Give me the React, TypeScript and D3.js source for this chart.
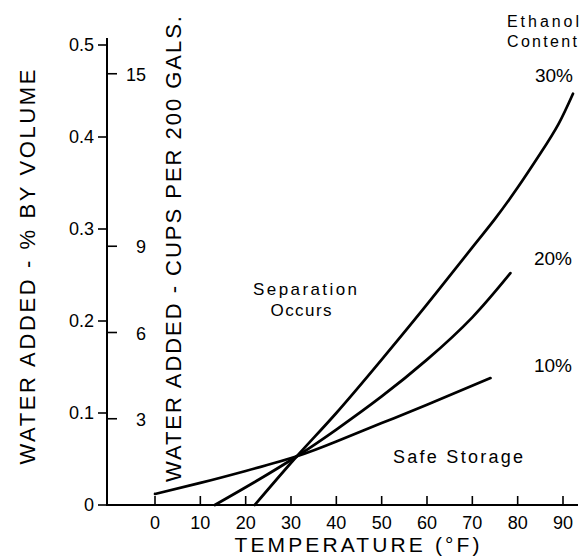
import React from 'react';
import * as d3 from 'd3';

// temperature (°F) vs. water added (% by volume)
const temps10 = [0, 10, 20, 31.3, 40, 50, 60, 74];
const water10 = [0.012, 0.024, 0.037, 0.053, 0.069, 0.089, 0.109, 0.138];
const temps20 = [13.2, 22, 31.3, 40, 50, 60, 70, 78.4];
const water20 = [0, 0.025, 0.053, 0.082, 0.118, 0.158, 0.204, 0.252];
const temps30 = [22, 31.3, 40, 50, 60, 70, 75, 80, 85, 89, 92.2];
const water30 = [0, 0.053, 0.1, 0.158, 0.218, 0.28, 0.311, 0.345, 0.382, 0.414, 0.447];

const seriesLabels = ['10%', '20%', '30%'];
const tempTicks = [0, 10, 20, 30, 40, 50, 60, 70, 80, 90];
const pctTicks = [0, 0.1, 0.2, 0.3, 0.4, 0.5];
const cupTicks = [3, 6, 9, 15];
const cupsPerPct = 32; // 200 gal = 3200 cups

const FONT = '"Liberation Sans", Arial, sans-serif';

export default function App() {
  const width = 579, height = 557;
  const axisX = 107;

  const x = d3.scaleLinear().domain([0, 90]).range([155, 563]);
  const y = d3.scaleLinear().domain([0, 0.5]).range([505, 45]);

  const line = d3.line<[number, number]>()
    .x(d => x(d[0]))
    .y(d => y(d[1]))
    .curve(d3.curveNatural);

  const series = [
    d3.zip(temps10, water10),
    d3.zip(temps20, water20),
    d3.zip(temps30, water30),
  ] as [number, number][][];

  const fmtPct = (v: number) => (v === 0 ? '0' : d3.format('.1f')(v));

  return (
    <div style={{ position: 'absolute', left: 0, top: 0 }}>
      <svg width={width} height={height} style={{ display: 'block', background: '#fff' }}
        fontFamily={FONT} fill="#000">
        {/* axes */}
        <line x1={axisX} x2={578} y1={y(0)} y2={y(0)} stroke="#000" strokeWidth={2} />
        <line x1={axisX} x2={axisX} y1={y(0) + 1} y2={38} stroke="#000" strokeWidth={2} />

        {tempTicks.map(t => (
          <g key={'xt' + t}>
            <line x1={x(t)} x2={x(t)} y1={y(0)} y2={y(0) - 9} stroke="#000" strokeWidth={1.6} />
            <text x={x(t)} y={529} fontSize={18} textAnchor="middle">{t}</text>
          </g>
        ))}

        {pctTicks.map(v => (
          <g key={'yt' + v}>
            <line x1={axisX} x2={axisX - 9} y1={y(v)} y2={y(v)} stroke="#000" strokeWidth={1.6} />
            <text x={94} y={y(v) + 6} fontSize={18} textAnchor="end">{fmtPct(v)}</text>
          </g>
        ))}

        {cupTicks.map(c => (
          <g key={'ct' + c}>
            <line x1={axisX} x2={axisX + 10} y1={y(c / cupsPerPct)} y2={y(c / cupsPerPct)}
              stroke="#000" strokeWidth={1.6} />
            <text x={146} y={y(c / cupsPerPct) + 7} fontSize={18} textAnchor="end">{c}</text>
          </g>
        ))}

        {/* axis titles */}
        <text transform="translate(35,267) rotate(-90)" fontSize={22} textAnchor="middle"
          textLength={395} lengthAdjust="spacing">WATER ADDED - % BY VOLUME</text>
        <text transform="translate(181,249) rotate(-90)" fontSize={22} textAnchor="middle"
          textLength={466} lengthAdjust="spacing">WATER ADDED - CUPS PER 200 GALS.</text>
        <text x={357} y={552} fontSize={21} textAnchor="middle"
          textLength={245} lengthAdjust="spacing">TEMPERATURE  (°F)</text>

        {/* curves */}
        {series.map((s, i) => (
          <path key={seriesLabels[i]} d={line(s) || ''} fill="none" stroke="#000"
            strokeWidth={2.7} strokeLinecap="round" />
        ))}

        {/* annotations */}
        <text x={543} y={27} fontSize={16} textAnchor="middle" textLength={72}
          lengthAdjust="spacing">Ethanol</text>
        <text x={542} y={47} fontSize={16} textAnchor="middle" textLength={70}
          lengthAdjust="spacing">Content</text>
        <text x={554} y={82} fontSize={19} textAnchor="middle">{seriesLabels[2]}</text>
        <text x={553} y={265} fontSize={19} textAnchor="middle">{seriesLabels[1]}</text>
        <text x={553} y={372} fontSize={19} textAnchor="middle">{seriesLabels[0]}</text>

        <text x={305} y={295} fontSize={17} textAnchor="middle" textLength={104}
          lengthAdjust="spacing">Separation</text>
        <text x={301} y={316} fontSize={17} textAnchor="middle" textLength={61}
          lengthAdjust="spacing">Occurs</text>
        <text x={458} y={463} fontSize={18} textAnchor="middle" textLength={130}
          lengthAdjust="spacing">Safe Storage</text>
      </svg>
    </div>
  );
}
